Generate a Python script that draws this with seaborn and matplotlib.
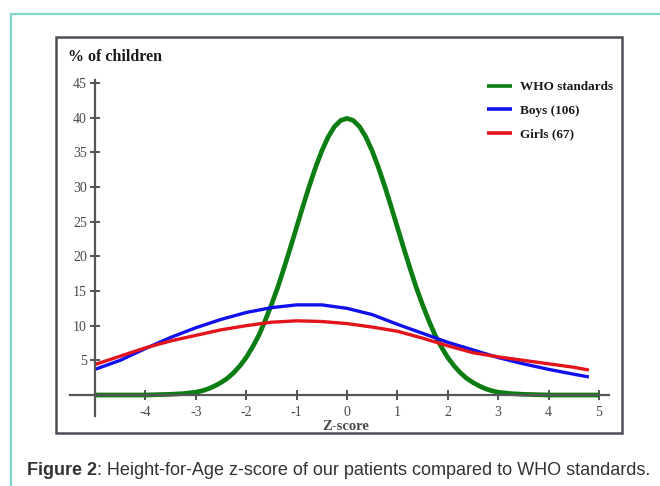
import numpy as np
import pandas as pd
import seaborn as sns
import matplotlib.pyplot as plt
from matplotlib.lines import Line2D
from matplotlib.patches import Rectangle

# z-score grid and % of children
who_z = [-5, -4.5, -4, -3.5, -3.25, -3, -2.875, -2.75, -2.625, -2.5, -2.375,
         -2.25, -2.125, -2, -1.875, -1.75, -1.625, -1.5, -1.375, -1.25, -1.125,
         -1, -0.875, -0.75, -0.625, -0.5, -0.375, -0.25, -0.125, 0,
         0.125, 0.25, 0.375, 0.5, 0.625, 0.75, 0.875, 1, 1.125, 1.25, 1.375,
         1.5, 1.625, 1.75, 1.875, 2, 2.125, 2.25, 2.375, 2.5, 2.625, 2.75,
         2.875, 3, 3.25, 3.5, 4, 4.5, 5]
who_pct = [0, 0, 0, 0.1, 0.2, 0.4, 0.6, 0.9, 1.3, 1.8, 2.4,
           3.2, 4.2, 5.4, 6.9, 8.6, 10.7, 13.0, 15.5, 18.3, 21.2,
           24.2, 27.2, 30.1, 32.8, 35.2, 37.2, 38.7, 39.6, 39.9,
           39.6, 38.7, 37.2, 35.2, 32.8, 30.1, 27.2, 24.2, 21.2, 18.3, 15.5,
           13.0, 10.7, 8.6, 6.9, 5.4, 4.2, 3.2, 2.4, 1.8, 1.3, 0.9,
           0.6, 0.4, 0.2, 0.1, 0, 0, 0]

grp_z = [-5, -4.5, -4, -3.5, -3, -2.5, -2, -1.5, -1, -0.5, 0, 0.5, 1, 1.5,
         2, 2.5, 3, 3.5, 4, 4.5, 4.8]
boys_pct = [3.7, 5.0, 6.7, 8.3, 9.7, 10.9, 11.9, 12.6, 13.0, 13.0, 12.5, 11.6,
            10.2, 8.9, 7.6, 6.5, 5.4, 4.5, 3.7, 3.0, 2.6]
girls_pct = [4.4, 5.6, 6.8, 7.8, 8.6, 9.4, 10.0, 10.5, 10.7, 10.6, 10.3, 9.8,
             9.2, 8.2, 7.1, 6.1, 5.5, 5.0, 4.5, 4.0, 3.6]

x_ticks = [-4, -3, -2, -1, 0, 1, 2, 3, 4, 5]
y_ticks = [5, 10, 15, 20, 25, 30, 35, 40, 45]

labels = ["WHO standards", "Boys (106)", "Girls (67)"]
colors = ["#0b7d12", "#1010f0", "#e4141c"]
widths = [3.4, 2.4, 2.4]

df = pd.concat([
    pd.DataFrame({"z": who_z, "pct": who_pct, "group": labels[0]}),
    pd.DataFrame({"z": grp_z, "pct": boys_pct, "group": labels[1]}),
    pd.DataFrame({"z": grp_z, "pct": girls_pct, "group": labels[2]}),
])

sns.set_style("white")
plt.rcParams["font.family"] = ["Liberation Serif", "DejaVu Serif"]

W, H = 660, 486
fig = plt.figure(figsize=(6.6, 4.86), dpi=100)

def fx(px):
    return px / W

def fy(py):
    return 1 - py / H

# outer teal frame and inner chart frame
fig.add_artist(Line2D([fx(11), 1.0], [fy(14), fy(14)], color="#7dd6c9", lw=1.6))
fig.add_artist(Line2D([fx(11), fx(11)], [fy(14), 0.0], color="#7dd6c9", lw=1.6))
fig.add_artist(Rectangle((fx(56), fy(433)), fx(622) - fx(56), fy(37) - fy(433),
                         fill=False, ec="#4a4f55", lw=1.8))

ax = fig.add_axes([fx(60), fy(420), fx(620) - fx(60), fy(75) - fy(420)])
ax.patch.set_alpha(0)

for lab, col, lw in zip(labels, colors, widths):
    sub = df[df["group"] == lab]
    sns.lineplot(data=sub, x="z", y="pct", color=col, linewidth=lw, ax=ax,
                 label=lab, solid_capstyle="butt", solid_joinstyle="round")

ax.set_xlim(-5.694, 5.417)
ax.set_ylim(-3.606, 46.16)

for s in ["top", "right"]:
    ax.spines[s].set_visible(False)
ax.spines["left"].set_position(("data", -5))
ax.spines["bottom"].set_position(("data", 0))
ax.spines["left"].set_bounds(-3.0, 45.4)
ax.spines["bottom"].set_bounds(-5.5, 5.2)
for s in ["left", "bottom"]:
    ax.spines[s].set_color("#555555")
    ax.spines[s].set_linewidth(1.6)

ax.set_xticks(x_ticks)
ax.set_yticks(y_ticks)
ax.set_xticklabels([str(v) for v in x_ticks])
ax.set_yticklabels([str(v) for v in y_ticks])
ax.tick_params(axis="both", bottom=True, left=True, direction="inout",
               length=6.5, width=1.3, color="#444444", labelcolor="#4a4a4a",
               labelsize=10, pad=2.5)
ax.tick_params(axis="x", pad=4.5)
ax.set_xlabel("")
ax.set_ylabel("")

fig.text(fx(68), fy(57), "% of children", fontsize=11.5, fontweight="bold",
         color="#1a1a1a", va="center", ha="left")
fig.text(fx(346), fy(426), "Z-score", fontsize=10.5, fontweight="bold",
         color="#4a4a4a", va="center", ha="center")

leg = ax.legend(loc="upper left", bbox_to_anchor=(fx(487), fy(81)),
                bbox_transform=fig.transFigure, frameon=False, borderpad=0,
                borderaxespad=0, handlelength=1.9, handletextpad=0.6,
                labelspacing=0.85, prop={"weight": "bold", "size": 9.5})
for t in leg.get_texts():
    t.set_color("#1a1a1a")
for h in leg.get_lines():
    h.set_linewidth(2.6)

# caption
cap_font = ["Liberation Sans", "DejaVu Sans"]
t1 = fig.text(fx(27), fy(470), "Figure 2", fontsize=13, fontweight="bold",
              family=cap_font, color="#333333", va="center", ha="left")
fig.canvas.draw()
bb = t1.get_window_extent()
fig.text(bb.x1 / W, fy(470), ": Height-for-Age z-score of our patients compared to WHO standards.",
         fontsize=13, family=cap_font, color="#333333", va="center", ha="left")

fig.savefig("out.png", dpi=100)
